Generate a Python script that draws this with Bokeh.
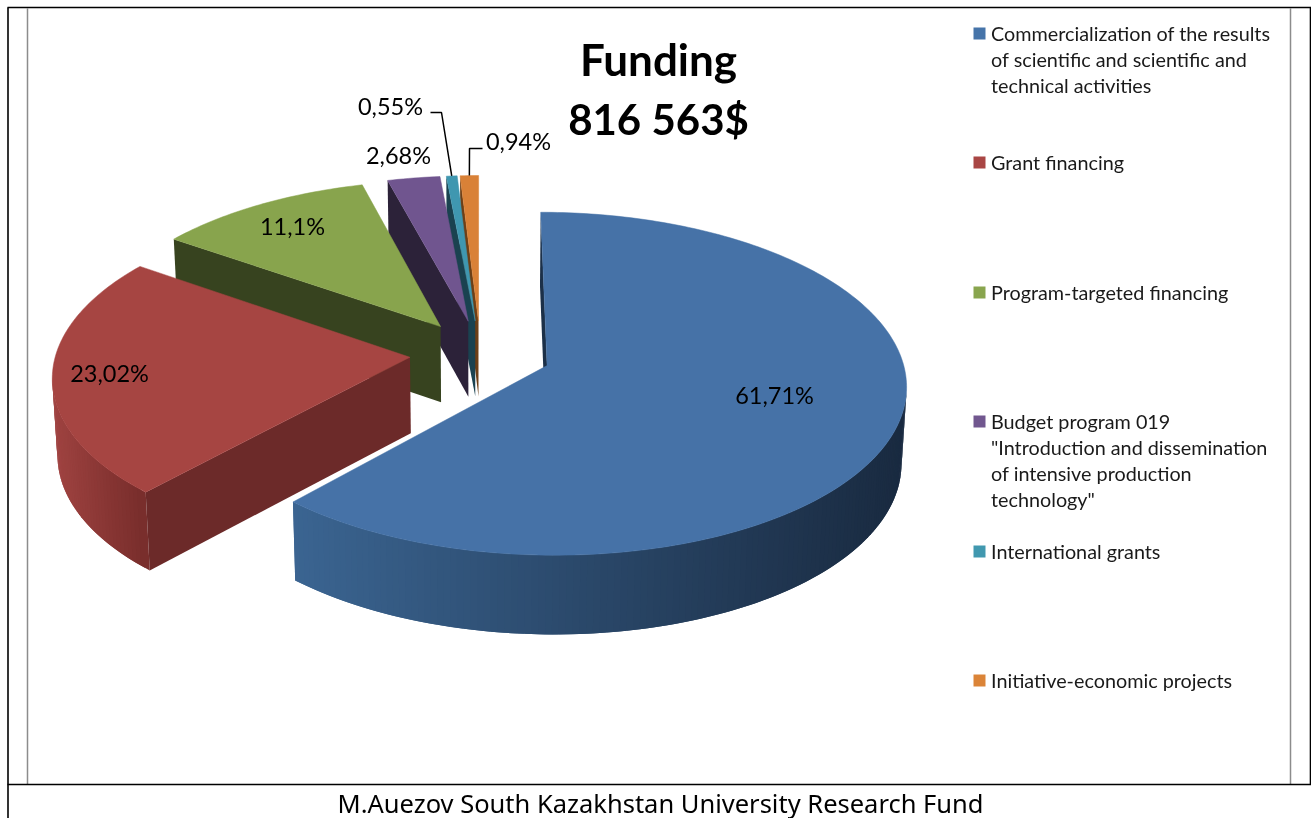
from math import sin, cos, radians
from bokeh.plotting import figure
from bokeh.models import Range1d
from bokeh.core.properties import value
from bokeh.embed import file_html
from bokeh.resources import INLINE

# ---- data
categories = [
    ["Commercialization of the results", "of scientific and scientific and", "technical activities"],
    ["Grant financing"],
    ["Program-targeted financing"],
    ["Budget program 019", "\"Introduction and dissemination", "of intensive production", "technology\""],
    ["International grants"],
    ["Initiative-economic projects"],
]
shares = [61.71, 23.02, 11.1, 2.68, 0.55, 0.94]
title_lines = ["Funding", "816 563$"]
caption = "M.Auezov South Kazakhstan University Research Fund"

# ---- styles
top_colors = ["#4672a7", "#a64542", "#88a44d", "#70558f", "#3f97b0", "#d98137"]
wall_colors = ["#1c3048", "#6c2a29", "#37431f", "#2c2239", "#1a4250", "#6d3f16"]
legend_colors = ["#4674a9", "#a94644", "#89a54e", "#71578f", "#4198af", "#db8438"]
side_light = ["#3b6592", "#a04341", "#55682f", "#44345a", "#26596a", "#8a5220"]
side_dark = ["#192a40", "#782d2b", "#37431f", "#2c2239", "#1a4250", "#6d3f16"]

# ---- layout (pixel space of the page)
W, H_PAGE = 1311, 818
CX, CY, RX, RY, K, EXPLODE, DEPTH, TAPER = 480, 353, 354, 167, 0.105, 0.2, 76, 0.012
label_pos = [(774, 394), (109, 372), (292, 225), (398, 154), (390, 105), (518, 140)]
legend_rows = [33, 162, 292, 421, 551, 680]
LINE_STEP = 26
FONT = "Lato"

p = figure(width=W, height=H_PAGE, output_backend="svg", toolbar_location=None,
           x_range=Range1d(0, W), y_range=Range1d(H_PAGE, 0), min_border=0,
           x_axis_type=None, y_axis_type=None, outline_line_color=None,
           background_fill_color="white", border_fill_color="white")
p.grid.visible = False
p.styles = {"position": "fixed", "left": "0px", "top": "0px"}


def proj(u, v, z):
    s = 1 / (1 + K * v)
    sc = s * (1 - TAPER * z)
    return CX + RX * u * sc, CY - RY * v * sc + DEPTH * z * s ** 0.6


def mix(a, b, t):
    ca = [int(a[i:i + 2], 16) for i in (1, 3, 5)]
    cb = [int(b[i:i + 2], 16) for i in (1, 3, 5)]
    return "#%02x%02x%02x" % tuple(round(x + (y - x) * t) for x, y in zip(ca, cb))


def faces(nu, nv, pu, pv):
    return nu * (0 - pu) + nv * (-1 / K - pv) > 0


def quad(a, b, color):
    pts = [proj(*a, 0), proj(*b, 0), proj(*b, 1), proj(*a, 1)]
    p.patch([q[0] for q in pts], [q[1] for q in pts], fill_color=color, line_color=None)


# slice angles from the shares, clockwise from twelve o'clock
angles = []
acc = 0.0
for s in shares:
    angles.append((acc, acc + s * 3.6))
    acc += s * 3.6

rim_mid = {}
for i in [5, 4, 3, 2, 1, 0]:
    a0, a1 = angles[i]
    mid = radians((a0 + a1) / 2)
    ou, ov = EXPLODE * sin(mid), EXPLODE * cos(mid)
    n = max(2, int(a1 - a0) + 1)
    ths = [radians(a0 + (a1 - a0) * j / n) for j in range(n + 1)]
    rim = [(ou + sin(t), ov + cos(t)) for t in ths]
    xs = [proj(*r, 0)[0] for r in rim]
    # outer side: painted from the far end, each piece overlapping the next to hide seams
    for j in range(n - 1, -1, -1):
        tm = (ths[j] + ths[j + 1]) / 2
        if faces(sin(tm), cos(tm), ou + sin(tm), ov + cos(tm)):
            xm = proj(ou + sin(tm), ov + cos(tm), 0)[0]
            t = (xm - min(xs)) / max(1, max(xs) - min(xs))
            quad(rim[j], rim[min(j + 2, n)], mix(side_light[i], side_dark[i], t))
    # cut walls
    t0, t1 = ths[0], ths[-1]
    if faces(-cos(t0), sin(t0), ou, ov):
        quad((ou, ov), rim[0], wall_colors[i])
    if faces(cos(t1), -sin(t1), ou, ov):
        quad((ou, ov), rim[-1], wall_colors[i])
    # top face
    pts = [proj(ou, ov, 0)] + [proj(*r, 0) for r in rim]
    p.patch([q[0] for q in pts], [q[1] for q in pts], fill_color=top_colors[i], line_color=top_colors[i], line_width=0.5)
    rim_mid[i] = proj(ou + sin(mid), ov + cos(mid), 0)

# leader lines from the small slices
p.line([430, 441, rim_mid[4][0]], [112, 112, rim_mid[4][1]], line_color="black", line_width=1.5)
p.line([482, 469, rim_mid[5][0]], [148, 148, rim_mid[5][1]], line_color="black", line_width=1.5)

# data labels
labels = [f"{s:g}".replace(".", ",") + "%" for s in shares]
p.text([q[0] for q in label_pos], [q[1] for q in label_pos], text=labels, text_font=value(FONT),
       text_font_size="23.5px", text_color="black", text_align="center", text_baseline="middle")

# legend
for i, lines in enumerate(categories):
    y0 = legend_rows[i]
    p.rect([979], [y0], width=12, height=12, fill_color=legend_colors[i], line_color=None)
    p.text([990.5] * len(lines), [y0 - 0.5 + j * LINE_STEP for j in range(len(lines))], text=lines,
           text_font=value(FONT), text_font_size="19.8px", text_color="#1a1a1a",
           text_align="left", text_baseline="middle")

# title and caption
p.text([658], [58], text=title_lines[:1], text_font=value(FONT), text_font_size="44px",
       text_font_style="bold", text_color="black", text_align="center", text_baseline="middle")
p.text([658], [118], text=title_lines[1:], text_font=value(FONT), text_font_size="42px",
       text_font_style="bold", text_color="black", text_align="center", text_baseline="middle")
p.text([660], [802], text=[caption], text_font=value("Noto Sans"), text_font_size="25.5px",
       text_color="black", text_align="center", text_baseline="middle")

# frame
for xs_ in (27, 1290):
    p.line([xs_, xs_], [8, 784], line_color="#8c8c8c", line_width=1.5)
p.line([7.5, 7.5], [7, 818], line_color="black", line_width=1.6)
p.line([1310, 1310], [7, 784], line_color="black", line_width=1.6)
p.line([7, 1311], [7, 7], line_color="black", line_width=1.6)
p.line([7, 1311], [784, 784], line_color="black", line_width=1.6)

open("out.html", "w").write(file_html(p, INLINE))
